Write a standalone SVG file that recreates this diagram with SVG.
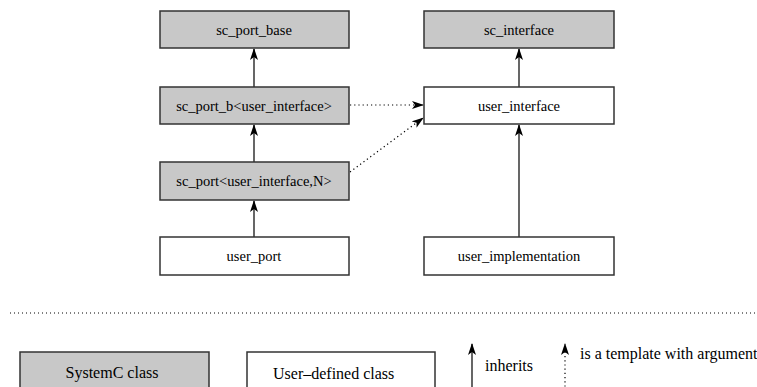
<svg xmlns="http://www.w3.org/2000/svg" width="757" height="387" viewBox="0 0 757 387">
<style>
.sc{fill:#c8c8c8;stroke:#333;stroke-width:1.5}
.ud{fill:#fff;stroke:#333;stroke-width:1.5}
.t{font-family:'Liberation Serif','DejaVu Serif',serif;font-size:14.5px;fill:#000}
.l{font-size:16px}
.c{text-anchor:middle}
.inh{stroke:#000;stroke-width:1.2;fill:none;marker-end:url(#ah)}
.tpl{stroke:#000;stroke-width:1.2;fill:none;stroke-dasharray:1.2 3;marker-end:url(#ah)}
</style>
<defs>
<marker id="ah" viewBox="0 0 12 8" refX="11" refY="4" markerWidth="12" markerHeight="8" markerUnits="userSpaceOnUse" orient="auto">
<path d="M0,0 L12,4 L0,8 L3,4 z" fill="#000"/>
</marker>
</defs>
<g id="connectors">
<line class="inh" x1="254" y1="87" x2="254" y2="49"/>
<line class="inh" x1="254" y1="162" x2="254" y2="125"/>
<line class="inh" x1="254" y1="237" x2="254" y2="201"/>
<line class="inh" x1="519" y1="87" x2="519" y2="49"/>
<line class="inh" x1="519" y1="237" x2="519" y2="125"/>
<line class="tpl" x1="350" y1="105" x2="423" y2="105"/>
<line class="tpl" x1="350" y1="172" x2="423" y2="118"/>
</g>
<g id="sc_port_base"><rect class="sc" x="160" y="11" width="189" height="37"/><text class="t c" x="254" y="35">sc_port_base</text></g>
<g id="sc_port_b"><rect class="sc" x="160" y="87" width="189" height="37"/><text class="t c" x="254" y="111">sc_port_b&lt;user_interface&gt;</text></g>
<g id="sc_port"><rect class="sc" x="160" y="162" width="189" height="38"/><text class="t c" x="254" y="186">sc_port&lt;user_interface,N&gt;</text></g>
<g id="user_port"><rect class="ud" x="160" y="237" width="189" height="38"/><text class="t c" x="254" y="261">user_port</text></g>
<g id="sc_interface"><rect class="sc" x="424" y="11" width="190" height="37"/><text class="t c" x="519" y="35">sc_interface</text></g>
<g id="user_interface"><rect class="ud" x="424" y="87" width="190" height="37"/><text class="t c" x="519" y="111">user_interface</text></g>
<g id="user_implementation"><rect class="ud" x="424" y="237" width="190" height="38"/><text class="t c" x="519" y="261">user_implementation</text></g>
<g id="legend">
<line x1="10" y1="313" x2="757" y2="313" stroke="#000" stroke-width="1" stroke-dasharray="1 3"/>
<rect class="sc" x="20" y="352" width="189" height="50"/>
<text class="t l c" x="112" y="378">SystemC class</text>
<rect class="ud" x="247" y="352" width="188" height="50"/>
<text class="t l" x="273" y="379">User–defined class</text>
<line class="inh" x1="472" y1="395" x2="472" y2="344"/>
<text class="t l" x="485" y="371">inherits</text>
<line class="tpl" x1="565" y1="395" x2="565" y2="344"/>
<text class="t l" x="580" y="359">is a template with argument</text>
</g>
</svg>
